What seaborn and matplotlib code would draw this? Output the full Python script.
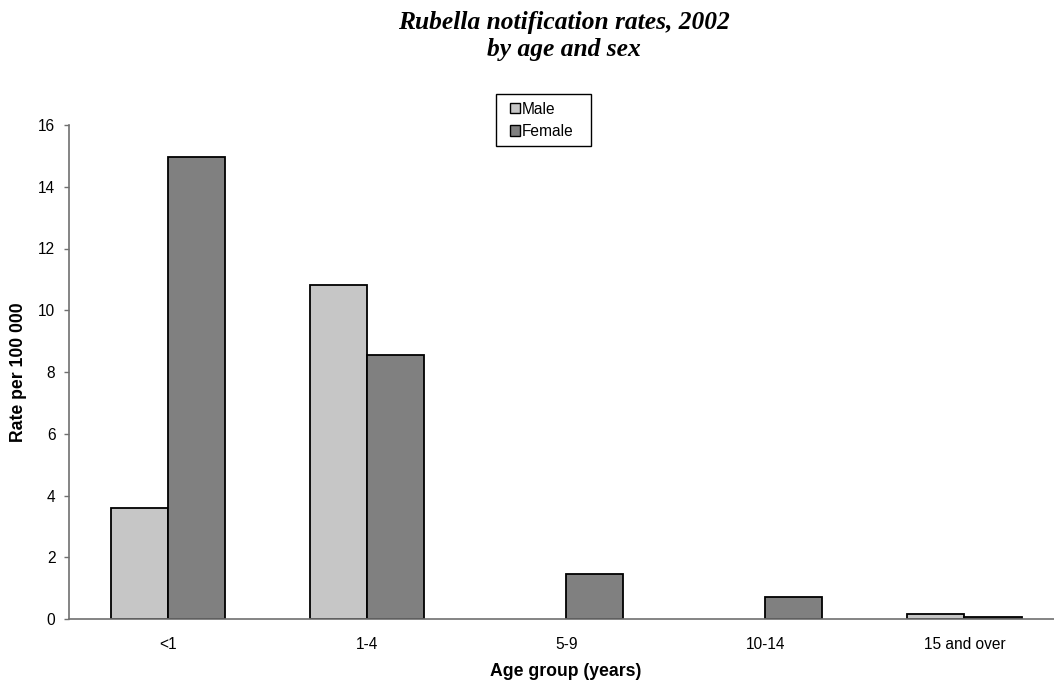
import matplotlib
matplotlib.use("Agg")
import matplotlib.pyplot as plt
import seaborn as sns
import pandas as pd
from matplotlib.patches import Patch, Rectangle
from matplotlib.ticker import FixedLocator, NullFormatter

age_groups = ["<1", "1-4", "5-9", "10-14", "15 and over"]
male_rates = [3.58, 10.82, 0.0, 0.0, 0.15]
female_rates = [14.96, 8.54, 1.46, 0.70, 0.065]
series_names = ["Male", "Female"]
y_ticks = [0, 2, 4, 6, 8, 10, 12, 14, 16]

df = pd.DataFrame({
    "Age group": age_groups * 2,
    "Rate": male_rates + female_rates,
    "Sex": [series_names[0]] * len(age_groups) + [series_names[1]] * len(age_groups),
})

sns.set_theme(style="white")
plt.rcParams["font.family"] = ["Liberation Sans", "DejaVu Sans"]
plt.rcParams["text.color"] = "black"
plt.rcParams["xtick.labelcolor"] = "black"
plt.rcParams["ytick.labelcolor"] = "black"

W, H = 1054, 681
fig = plt.figure(figsize=(W / 100, H / 100), dpi=100)
ax = fig.add_axes([68.5 / W, 1 - 619 / H, (1064 - 68.5) / W, (619 - 125) / H])

palette = {"Male": "#c6c6c6", "Female": "#808080"}
sns.barplot(data=df, x="Age group", y="Rate", hue="Sex", order=age_groups,
            hue_order=series_names, palette=palette, width=0.574, gap=0,
            edgecolor="black", linewidth=1.3, saturation=1, ax=ax, legend=False)
for p in ax.patches:
    if p.get_height() == 0:
        p.set_linewidth(0)

ax.set_xlim(-0.5, 4.5)
ax.set_ylim(0, 16)
ax.set_yticks(y_ticks)
ax.set_yticklabels([str(t) for t in y_ticks], fontsize=11.2)
ax.set_xticks(range(len(age_groups)))
ax.set_xticklabels(age_groups, fontsize=11.2)
ax.xaxis.set_minor_locator(FixedLocator([i - 0.5 for i in range(len(age_groups) + 1)]))
ax.xaxis.set_minor_formatter(NullFormatter())
ax.tick_params(axis="x", which="major", length=0, pad=13)
ax.tick_params(axis="x", which="minor", length=3.6, width=1, color="#707070", direction="out")
ax.tick_params(axis="y", length=3.6, width=1, color="#707070", direction="out", pad=5.8, left=True)

for s in ["top", "right"]:
    ax.spines[s].set_visible(False)
for s in ["left", "bottom"]:
    ax.spines[s].set_color("#707070")
    ax.spines[s].set_linewidth(1.2)

ax.set_xlabel("")
ax.set_ylabel("")
fig.text(566 / W, 1 - 672 / H, "Age group (years)", ha="center", va="center",
         fontsize=12.7, fontweight="bold")
fig.text(19 / W, 1 - 372 / H, "Rate per 100 000", ha="center", va="center",
         rotation=90, fontsize=12.7, fontweight="bold")

fig.text(564 / W, 1 - 36 / H, "Rubella notification rates, 2002\nby age and sex",
         ha="center", va="center", fontsize=18.4, fontweight="bold", style="italic",
         family=["Liberation Serif", "DejaVu Serif"], linespacing=1.25)

# legend frame
fig.patches.append(Rectangle((496 / W, 1 - 146 / H), 95 / W, 52 / H,
                             transform=fig.transFigure, fill=False,
                             edgecolor="black", linewidth=1.0))
handles = [Patch(facecolor=palette[n], edgecolor="black", linewidth=1.0, label=n)
           for n in series_names]
leg = fig.legend(handles=handles, loc="upper left",
                 bbox_to_anchor=(510 / W, 1 - 101.5 / H), frameon=False,
                 fontsize=11.2, handlelength=0.65, handleheight=0.65, handletextpad=0.1,
                 labelspacing=0.48, borderpad=0, borderaxespad=0)

fig.savefig("out.png", dpi=100)
